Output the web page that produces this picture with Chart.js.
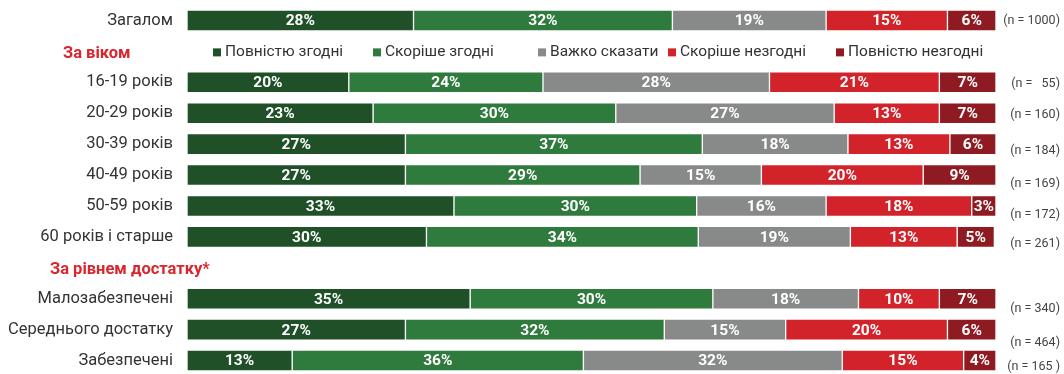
<!DOCTYPE html>
<html>
<head>
<meta charset="utf-8">
<script src="https://cdn.jsdelivr.net/npm/chart.js@4"></script>
<style>
  html, body { margin: 0; padding: 0; background: #fff; overflow: hidden; }
  #wrap { position: relative; width: 1064px; height: 376px; }
</style>
</head>
<body>
<div id="wrap"><canvas id="c"></canvas></div>
<script>
// ---- data ----
const categories = [
  'Загалом', '', '16-19 років', '20-29 років', '30-39 років', '40-49 років',
  '50-59 років', '60 років і старше', '', 'Малозабезпечені', 'Середнього достатку', 'Забезпечені'
];
const seriesNames = ['Повністю згодні', 'Скоріше згодні', 'Важко сказати', 'Скоріше незгодні', 'Повністю незгодні'];
const fullyAgree    = [28, null, 20, 23, 27.0, 27, 33, 29.6, null, 35, 27, 13];
const ratherAgree   = [32, null, 24, 30, 36.7, 29, 30, 33.6, null, 30, 32, 36];
const hardToSay     = [19, null, 28, 27, 18.0, 15, 16, 18.8, null, 18, 15, 32];
const ratherDisagree= [15, null, 21, 13, 12.6, 20, 18, 13.2, null, 10, 20, 15];
const fullyDisagree = [6,  null, 7,  7,  5.7,  9,  3,  4.6,  null, 7,  6,  4];
const sampleSizes   = ['(n = 1000)', '', '(n =   55)', '(n = 160)', '(n = 184)', '(n = 169)',
                       '(n = 172)', '(n = 261)', '', '(n = 340)', '(n = 464)', '(n = 165 )'];
const sectionHeaders = [null, 'За віком', null, null, null, null, null, null, 'За рівнем достатку*', null, null, null];

// ---- layout / style ----
const colors = ['#1f5028', '#2f7a3d', '#878a89', '#d2222a', '#8e1b22'];
const nDy = [0, 0, 2, 2, 7, 9, 9, 7, 0, 10, 13, 6];
const headerX = [0, 63, 0, 0, 0, 0, 0, 0, 50, 0, 0, 0];
const legendX = [213, 373, 538, 668, 836];
const FONT = 'Roboto, "Noto Sans", sans-serif';

const seriesValues = [fullyAgree, ratherAgree, hardToSay, ratherDisagree, fullyDisagree];

const overlay = {
  id: 'overlay',
  afterDatasetsDraw(chart) {
    const ctx = chart.ctx;
    const y = chart.scales.y;
    ctx.save();
    // percent labels
    ctx.font = 'bold 15.5px ' + FONT;
    ctx.fillStyle = '#ffffff';
    ctx.textAlign = 'center';
    ctx.textBaseline = 'middle';
    chart.data.datasets.forEach((ds, di) => {
      const meta = chart.getDatasetMeta(di);
      meta.data.forEach((bar, i) => {
        const v = ds.data[i];
        if (v == null) return;
        const cx = (bar.x + bar.base) / 2;
        ctx.fillText(Math.round(v) + '%', cx, bar.y + 1);
      });
    });
    // sample sizes
    ctx.font = '12.5px ' + FONT;
    ctx.fillStyle = '#444';
    ctx.textAlign = 'right';
    sampleSizes.forEach((s, i) => {
      if (!s) return;
      ctx.fillText(s, 1060, y.getPixelForValue(i) + nDy[i]);
    });
    // section headers
    ctx.font = 'bold 16.5px ' + FONT;
    ctx.fillStyle = '#d9262e';
    ctx.textAlign = 'left';
    sectionHeaders.forEach((h, i) => {
      if (!h) return;
      ctx.fillText(h, headerX[i], y.getPixelForValue(i) + 2);
    });
    // legend (in the "За віком" row)
    const ly = y.getPixelForValue(1) + 1;
    ctx.font = '15.5px ' + FONT;
    seriesNames.forEach((name, i) => {
      ctx.fillStyle = colors[i];
      ctx.fillRect(legendX[i], ly - 4, 8, 8);
      ctx.fillStyle = '#333';
      ctx.fillText(name, legendX[i] + 12, ly);
    });
    ctx.restore();
  }
};

new Chart(document.getElementById('c'), {
  type: 'bar',
  data: {
    labels: categories,
    datasets: seriesNames.map((name, i) => ({
      label: name,
      data: seriesValues[i],
      backgroundColor: colors[i],
      borderColor: '#ffffff',
      borderWidth: 1,
      borderSkipped: false,
      barThickness: 21
    }))
  },
  options: {
    indexAxis: 'y',
    responsive: true,
    maintainAspectRatio: false,
    animation: false,
    layout: { padding: { left: 0, right: 68, top: 5, bottom: 0 } },
    plugins: { legend: { display: false }, tooltip: { enabled: false } },
    scales: {
      x: { stacked: true, min: 0, max: 100, display: false },
      y: {
        stacked: true,
        grid: { display: false, drawTicks: false },
        border: { display: false },
        ticks: { padding: 14, color: '#333', font: { family: FONT, size: 16.5 }, autoSkip: false },
        afterFit(scale) { scale.width = 187; scale.paddingTop = 0; scale.paddingBottom = 0; }
      }
    }
  },
  plugins: [overlay]
});
</script>
</body>
</html>
